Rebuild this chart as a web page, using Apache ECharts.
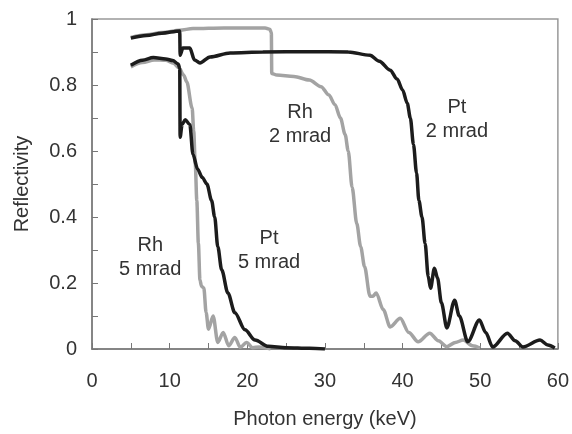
<!DOCTYPE html>
<html lang="en">
<head>
    <meta charset="UTF-8">
    <title>Reflectivity</title>
    <script src="https://cdn.jsdelivr.net/npm/echarts@6/dist/echarts.min.js"></script>
    <style>
        html, body { margin: 0; padding: 0; background: #fff; }
        #chart1 { width: 572px; height: 434px; }
    </style>
</head>
<body>
<div id="chart1"></div>
<script>
    // [keV, reflectivity]
    var rhTwo = [[5,0.944],[7,0.952],[9,0.959],[11.3,0.966],[13,0.971],[17,0.973],[22.3,0.973],[22.9,0.969],[23.1,0.958],
        [23.15,0.835],[23.8,0.83],[26,0.826],[28,0.815],[29.5,0.795],[30.5,0.77],[31.3,0.74],[32,0.70],[32.6,0.65],
        [33,0.60],[33.5,0.49],[34.1,0.38],[34.6,0.31],[35.1,0.25],[35.8,0.16],[36.2,0.16],[36.6,0.17],[37.5,0.12],
        [38.4,0.067],[39.7,0.093],[40.8,0.05],[42.0,0.022],[43.5,0.048],[44.6,0.025],[45.7,0.007],[46.8,0.02],
        [47.8,0.027],[49,0.01],[50,0.003]];
    var rhFive = [[5,0.855],[6.5,0.868],[8,0.876],[9.5,0.875],[10.5,0.866],[11.2,0.852],[11.8,0.83],[12.2,0.81],
        [12.9,0.73],[13.1,0.66],[13.3,0.56],[13.5,0.45],[13.7,0.32],[13.9,0.21],[14.1,0.19],[14.4,0.185],[14.7,0.11],
        [15.0,0.06],[15.6,0.10],[16.2,0.02],[16.9,0.05],[17.6,0.01],[18.4,0.035],[19.1,0.005],[19.9,0.02],[20.7,0.004],
        [21.5,0.006],[23,0.0]];
    var ptTwo = [[5,0.942],[7,0.950],[9,0.957],[11.3,0.964],[11.35,0.89],[11.7,0.912],[12.6,0.912],[13.2,0.876],
        [13.9,0.867],[15.2,0.885],[17.8,0.897],[22,0.9],[28,0.901],[33,0.9],[35.8,0.89],[37,0.872],[38.4,0.845],
        [39.3,0.818],[40,0.785],[40.6,0.745],[41.0,0.70],[41.4,0.62],[41.8,0.533],[42.1,0.45],[42.5,0.40],[42.9,0.32],
        [43.3,0.22],[43.6,0.184],[44.1,0.245],[44.5,0.215],[45.0,0.14],[45.7,0.064],[46.7,0.148],[47.3,0.10],
        [48.4,0.022],[49.9,0.088],[50.7,0.05],[51.6,0.006],[53.5,0.048],[54.5,0.025],[55.5,0.006],[57.7,0.027],
        [58.7,0.012],[59.6,0.003]];
    var ptFive = [[5,0.86],[6.5,0.875],[7.9,0.883],[9.5,0.879],[10.4,0.874],[11.1,0.864],[11.3,0.85],[11.35,0.642],
        [11.6,0.68],[12.0,0.695],[12.6,0.68],[13.0,0.59],[13.6,0.545],[14.2,0.52],[14.8,0.50],[15.4,0.45],[15.8,0.40],
        [16.2,0.31],[16.7,0.24],[17.5,0.17],[18.4,0.11],[19.7,0.058],[21,0.027],[22.7,0.008],[25,0.004],[28,0.002],[30,0.0]];
    var xTickLabels = ['0','10','20','30','40','50','60'];
    var yTickLabels = ['0','0.2','0.4','0.6','0.8','1'];
    // curve notes: [text, keV, reflectivity at centre]
    var notes = [
        ['Rh\n2 mrad', 26.8, 0.679],
        ['Pt\n2 mrad', 47.0, 0.694],
        ['Rh\n5 mrad', 7.5, 0.276],
        ['Pt\n5 mrad', 22.8, 0.300]
    ];

    var font = 'Liberation Sans, Arial, sans-serif';
    var myChart = echarts.init(document.getElementById('chart1'), null, {renderer: 'canvas'});
    var option = {
        animation: false,
        backgroundColor: '#fff',
        grid: {
            left: 92, right: 14, top: 19, bottom: 85,
            show: true,
            borderColor: '#999',
            borderWidth: 1.5
        },
        xAxis: {
            type: 'value',
            min: 0, max: 60, interval: 5,
            name: 'Photon energy (keV)',
            nameLocation: 'middle',
            nameGap: 60,
            nameTextStyle: {fontFamily: font, fontSize: 20, color: '#333'},
            axisLine: {lineStyle: {color: '#777', width: 1.5}},
            axisTick: {inside: true, length: 6, lineStyle: {color: '#777'}},
            axisLabel: {
                margin: 22, fontFamily: font, fontSize: 20, color: '#333',
                formatter: function (v) {
                    var s = String(v);
                    return xTickLabels.indexOf(s) >= 0 ? s : '';
                }
            },
            splitLine: {show: false}
        },
        yAxis: {
            type: 'value',
            min: 0, max: 1, interval: 0.1,
            name: 'Reflectivity',
            nameLocation: 'middle',
            nameGap: 60,
            nameTextStyle: {fontFamily: font, fontSize: 20, color: '#333'},
            axisLine: {show: true, lineStyle: {color: '#777', width: 1.5}},
            axisTick: {show: true, inside: true, length: 6, lineStyle: {color: '#777'}},
            axisLabel: {
                margin: 15, fontFamily: font, fontSize: 20, color: '#333',
                formatter: function (v) {
                    var s = String(+v.toFixed(1));
                    return yTickLabels.indexOf(s) >= 0 ? s : '';
                }
            },
            splitLine: {show: false}
        },
        series: [
            {name: 'Rh 2 mrad', data: rhTwo, color: '#a3a3a3'},
            {name: 'Rh 5 mrad', data: rhFive, color: '#a3a3a3'},
            {name: 'Pt 2 mrad', data: ptTwo, color: '#1c1c1c'},
            {name: 'Pt 5 mrad', data: ptFive, color: '#1c1c1c'}
        ].map(function (s) {
            return {
                name: s.name, type: 'line', data: s.data,
                showSymbol: false, smooth: 0.3, smoothMonotone: 'x',
                lineStyle: {color: s.color, width: 3.5},
                itemStyle: {color: s.color}
            };
        })
    };
    myChart.setOption(option);

    myChart.setOption({
        graphic: notes.map(function (n) {
            var p = myChart.convertToPixel({gridIndex: 0}, [n[1], n[2]]);
            return {
                type: 'text', x: p[0], y: p[1], z: 10,
                style: {
                    text: n[0], font: '20px ' + font, fill: '#333',
                    align: 'center', verticalAlign: 'middle', lineHeight: 24
                }
            };
        })
    });
</script>
</body>
</html>
